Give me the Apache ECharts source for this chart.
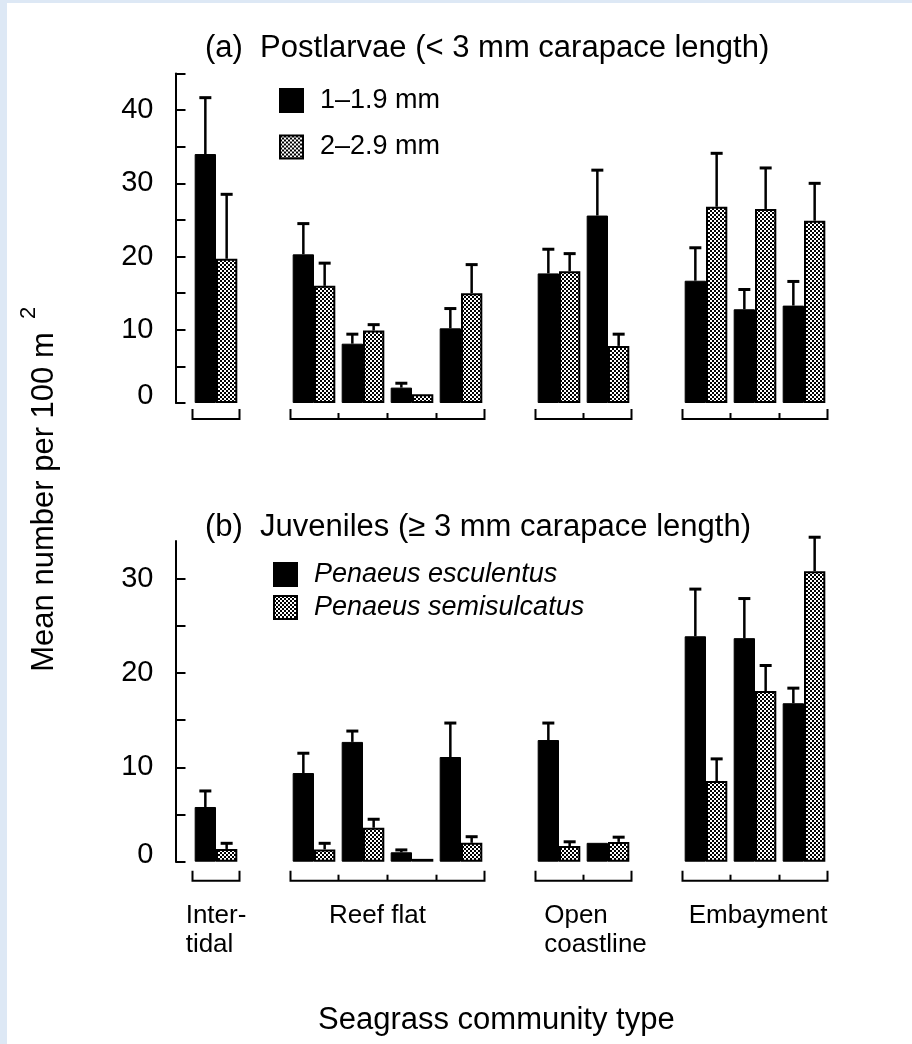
<!DOCTYPE html>
<html>
<head>
<meta charset="utf-8">
<script src="https://cdn.jsdelivr.net/npm/echarts@6/dist/echarts.min.js"></script>
<style>
  html, body { margin: 0; padding: 0; background: #ffffff; }
  #chart { width: 912px; height: 1044px; }
</style>
</head>
<body>
<div id="chart"></div>
<script>
// ---------------- DATA ----------------
// 13 slots: sites, with empty slots separating the community types
const categories = ['Intertidal', 'gap-1', 'Reef flat 1', 'Reef flat 2', 'Reef flat 3', 'Reef flat 4',
  'gap-2', 'Open coastline 1', 'Open coastline 2', 'gap-3', 'Embayment 1', 'Embayment 2', 'Embayment 3'];

// community-type groups (first and last slot index)
const groupLabels = ['Inter-\ntidal', 'Reef flat', 'Open\ncoastline', 'Embayment'];
const groupFirst = [0, 2, 7, 10];
const groupLast = [0, 5, 8, 12];

// (a) Postlarvae
const seriesNamesA = ['1\u20131.9 mm', '2\u20132.9 mm'];
const postSmallMean = [34.0, null, 20.3, 8.1, 2.1, 10.2, null, 17.7, 25.6, null, 16.7, 12.8, 13.3];
const postSmallSE   = [7.7,  null, 4.2,  1.3, 0.6, 2.7,  null, 3.3,  6.2,  null, 4.5,  2.7,  3.3];
const postLargeMean = [19.7, null, 16.0, 9.9, 1.2, 15.0, null, 18.0, 7.8,  null, 26.8, 26.5, 24.9];
const postLargeSE   = [8.8,  null, 3.1,  0.8, 0,   3.9,  null, 2.4,  1.6,  null, 7.3,  5.6,  5.1];

// (b) Juveniles
const seriesNamesB = ['Penaeus esculentus', 'Penaeus semisulcatus'];
const escMean = [5.8, null, 9.4,  12.7, 1.0,  11.1, null, 12.9, 2.0, null, 23.9, 23.7, 16.8];
const escSE   = [1.7, null, 2.1,  1.15, 0.25, 3.6,  null, 1.8,  0,   null, 5.0,  4.2,  1.6];
const semMean = [1.35, null, 1.3, 3.6,  0.3,  2.0,  null, 1.66, 2.1, null, 8.55, 18.1, 30.8];
const semSE   = [0.6,  null, 0.65, 0.9, 0,    0.65, null, 0.45, 0.5, null, 2.35, 2.7,  3.6];

// axis ticks / labels
const yMaxA = 45, yMaxB = 34;
const yTicksA = [0, 5, 10, 15, 20, 25, 30, 35, 40, 45];
const yLabelsA = [0, 10, 20, 30, 40];
const yTicksB = [0, 5, 10, 15, 20, 25, 30];
const yLabelsB = [0, 10, 20, 30];

const titleA = '(a)  Postlarvae (< 3 mm carapace length)';
const titleB = '(b)  Juveniles (\u2265 3 mm carapace length)';
const xTitle = 'Seagrass community type';
const yTitle = 'Mean number per 100 m';
const yTitleSup = '2';

// ---------------- STYLE / LAYOUT ----------------
const FONT = '"Liberation Sans", Arial, Helvetica, sans-serif';
const BAR_CAT_GAP = 0.13;
const labelShift = [0, -10, 12, 3];

function makePattern() {
  const c = document.createElement('canvas');
  c.width = 4; c.height = 4;
  const g = c.getContext('2d');
  g.fillStyle = '#ffffff'; g.fillRect(0, 0, 4, 4);
  g.fillStyle = '#000000';
  g.fillRect(0, 0, 2, 2); g.fillRect(2, 2, 2, 2);
  return c;
}
const pattern = { image: makePattern(), repeat: 'repeat' };

const measureCtx = document.createElement('canvas').getContext('2d');
function textWidth(t, font) { measureCtx.font = font; return measureCtx.measureText(t).width; }

function barSeries(name, gi, means, isPattern) {
  return {
    name, type: 'bar', xAxisIndex: gi, yAxisIndex: gi, data: means,
    barGap: '0%', barCategoryGap: (BAR_CAT_GAP * 100) + '%',
    itemStyle: isPattern
      ? { color: pattern, borderColor: '#000', borderWidth: 2 }
      : { color: '#000', borderColor: '#000', borderWidth: 1 },
    silent: true, z: 2
  };
}

function errSeries(gi, means, ses, side) {
  const data = [];
  means.forEach((m, i) => { if (m != null) data.push([i, m, ses[i]]); });
  return {
    type: 'custom', xAxisIndex: gi, yAxisIndex: gi, data, z: 5, silent: true,
    encode: { x: 0, y: 1 },
    renderItem(params, api) {
      const i = api.value(0), m = api.value(1), se = api.value(2);
      if (!se) return null;
      const base = api.coord([i, m]);
      const top = api.coord([i, m + se]);
      const band = api.size([1, 0])[0];
      const bw = band * (1 - BAR_CAT_GAP) / 2;
      const cx = base[0] + side * bw / 2;
      return {
        type: 'group', children: [
          { type: 'line', shape: { x1: cx, y1: base[1], x2: cx, y2: top[1] }, style: { stroke: '#000', lineWidth: 2.5 } },
          { type: 'line', shape: { x1: cx - 6, y1: top[1], x2: cx + 6, y2: top[1] }, style: { stroke: '#000', lineWidth: 3 } }
        ]
      };
    }
  };
}

function bracketSeries(gi, drop, withLabels) {
  const data = groupFirst.map((f, k) => [f, groupLast[k], 0, k]);
  const labelFont = '26px ' + FONT;
  return {
    type: 'custom', xAxisIndex: gi, yAxisIndex: gi, data, z: 5, silent: true, clip: false,
    encode: { x: [0, 1], y: 2 },
    renderItem(params, api) {
      const f = api.value(0), l = api.value(1), k = api.value(3);
      const band = api.size([1, 0])[0];
      const p0 = api.coord([f, 0]), p1 = api.coord([l, 0]);
      const x0 = p0[0] - band / 2 + 1, x1 = p1[0] + band / 2 - 1;
      const y = p0[1] + drop;
      const children = [{
        type: 'polyline',
        shape: { points: [[x0, y - 10], [x0, y], [x1, y], [x1, y - 10]] },
        style: { stroke: '#000', fill: null, lineWidth: 2 }
      }];
      for (let j = f; j < l; j++) {
        const xb = api.coord([j, 0])[0] + band / 2;
        children.push({ type: 'line', shape: { x1: xb, y1: y, x2: xb, y2: y - 6 }, style: { stroke: '#000', lineWidth: 2 } });
      }
      if (withLabels) {
        const lines = groupLabels[k].split('\n');
        const w = Math.max.apply(null, lines.map(t => textWidth(t, labelFont)));
        const cx = (x0 + x1) / 2;
        children.push({
          type: 'text',
          style: {
            text: groupLabels[k], x: cx - w / 2 + labelShift[k], y: y + 21,
            font: labelFont, fontSize: 26, fontFamily: FONT, fill: '#000',
            align: 'left', textAlign: 'left', verticalAlign: 'top', textVerticalAlign: 'top', lineHeight: 29
          }
        });
      }
      return { type: 'group', children };
    }
  };
}

function yAxis(gi, max, ticks, labels) {
  return {
    type: 'value', gridIndex: gi, min: 0, max, interval: 5, offset: 16,
    axisLine: { show: true, lineStyle: { color: '#000', width: 2 } },
    axisTick: { show: true, inside: true, length: 10, lineStyle: { color: '#000', width: 2 }, customValues: ticks },
    axisLabel: {
      show: true, customValues: labels, margin: 22, color: '#000', fontSize: 29, fontFamily: FONT,
      formatter: v => v === 0 ? '{z|0}' : String(v),
      rich: { z: { fontSize: 29, fontFamily: FONT, color: '#000', padding: [0, 0, 14, 0] } }
    },
    splitLine: { show: false }
  };
}

function xAxis(gi) {
  return {
    type: 'category', gridIndex: gi, data: categories, show: true,
    axisLine: { show: false }, axisTick: { show: false }, axisLabel: { show: false }, splitLine: { show: false }
  };
}

const titleStyle = { fontSize: 31, fontWeight: 'normal', fontFamily: FONT, color: '#000', lineHeight: 32 };
const legendText = (italic) => ({
  fontSize: 27, fontFamily: FONT, color: '#000', fontStyle: italic ? 'italic' : 'normal',
  lineHeight: 23, padding: [0, 0, 0, 12]
});

const option = {
  backgroundColor: '#ffffff',
  animation: false,
  title: [
    { text: titleA, left: 205, top: 32, padding: 0, textStyle: titleStyle },
    { text: titleB, left: 205, top: 511, padding: 0, textStyle: titleStyle },
    { text: xTitle, left: 318, top: 1004, padding: 0, textStyle: titleStyle }
  ],
  legend: [
    {
      data: seriesNamesA, orient: 'vertical', left: 279, top: 87, padding: 0,
      itemWidth: 23, itemHeight: 23, itemGap: 19.5, icon: 'rect', selectedMode: false,
      textStyle: legendText(false)
    },
    {
      data: seriesNamesB, orient: 'vertical', left: 273, top: 561, padding: 0,
      itemWidth: 23, itemHeight: 23, itemGap: 6, icon: 'rect', selectedMode: false,
      textStyle: legendText(true)
    }
  ],
  grid: [
    { left: 191.5, width: 637, top: 73.5, height: 329.5 },
    { left: 191.5, width: 637, top: 541, height: 320.7 }
  ],
  xAxis: [xAxis(0), xAxis(1)],
  yAxis: [yAxis(0, yMaxA, yTicksA, yLabelsA), yAxis(1, yMaxB, yTicksB, yLabelsB)],
  graphic: [
    { type: 'rect', shape: { x: 0, y: 0, width: 7, height: 1044 }, style: { fill: '#dde8f5' }, silent: true },
    { type: 'rect', shape: { x: 0, y: 0, width: 912, height: 3 }, style: { fill: '#dde8f5' }, silent: true },
    {
      type: 'text', x: 44, y: 502, rotation: Math.PI / 2, silent: true,
      style: { text: yTitle, font: '31px ' + FONT, fill: '#000', align: 'center', verticalAlign: 'middle',
        textAlign: 'center', textVerticalAlign: 'middle' }
    },
    {
      type: 'text', x: 29, y: 313, rotation: Math.PI / 2, silent: true,
      style: { text: yTitleSup, font: '22px ' + FONT, fill: '#000', align: 'center', verticalAlign: 'middle',
        textAlign: 'center', textVerticalAlign: 'middle' }
    }
  ],
  series: [
    barSeries(seriesNamesA[0], 0, postSmallMean, false),
    barSeries(seriesNamesA[1], 0, postLargeMean, true),
    errSeries(0, postSmallMean, postSmallSE, -1),
    errSeries(0, postLargeMean, postLargeSE, 1),
    bracketSeries(0, 16, false),
    barSeries(seriesNamesB[0], 1, escMean, false),
    barSeries(seriesNamesB[1], 1, semMean, true),
    errSeries(1, escMean, escSE, -1),
    errSeries(1, semMean, semSE, 1),
    bracketSeries(1, 19, true)
  ]
};

const chart = echarts.init(document.getElementById('chart'), null, { renderer: 'canvas' });
chart.setOption(option);
</script>
</body>
</html>
